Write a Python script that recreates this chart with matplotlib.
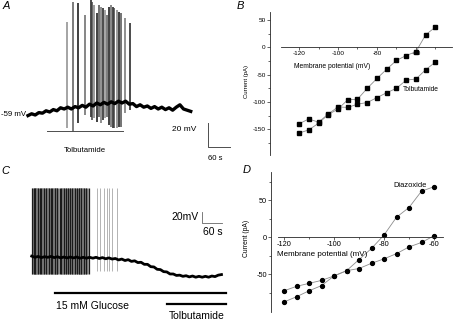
import numpy as np
import matplotlib
matplotlib.use('Agg')
import matplotlib.pyplot as plt

plt.rcParams['font.family'] = ['Liberation Sans', 'DejaVu Sans']
plt.rcParams['axes.unicode_minus'] = False

# ---- panel A : membrane potential trace (s, mV) ----
a_base_t = list(range(0, 451, 10))
a_base_v = [-59.5, -58, -59, -57, -57.5, -55.5, -56.5, -54.5, -55.5, -53,
            -54, -52.5, -54, -52, -53, -51, -52.5, -50, -51.5, -49,
            -50.5, -48.5, -50, -48, -49.5, -47.5, -49, -47.5, -50, -49.5,
            -52, -50.5, -52.5, -51.5, -53.5, -52, -54, -52.5, -54.5, -53,
            -55, -52.5, -50.5, -54, -55, -56]
a_spike_t = [109, 125, 139, 158, 173, 178, 183, 190, 197, 201, 207,
             213, 218, 225, 230, 234, 239, 245, 252, 257, 268, 282]
a_spike_top = [18.7, 35.4, 34.0, 24.3, 36.8, 35.4, 32.6, 25.7, 32.6, 31.2, 29.9,
               28.5, 24.3, 31.2, 32.6, 31.2, 29.9, 28.5, 27.1, 25.7, 21.6, 17.4]
a_spike_bot = [-69.8, -72.9, -65.9, -59, -60.4, -63.2, -61.7, -64.6, -60.4, -65.9, -63.2,
               -61.7, -60.4, -67.3, -68.7, -70.1, -70.1, -70.1, -68.7, -68.7, -57.6, -54.8]
a_drug = (52, 263)

# ---- panel B : I-V (mV, pA) ----
b_v = [-120, -115, -110, -105, -100, -95, -90, -85, -80, -75, -70, -65, -60, -55, -50]
b_control = [-157, -151, -139, -123, -113, -96, -95, -75, -57, -40, -24, -15, -8, 23, 37]
b_tolb = [-140, -131, -137, -122, -109, -110, -104, -101, -92, -83, -75, -60, -58, -41, -27]

# ---- panel C : glucose trace (s, mV) ----
c_base_t = list(range(0, 591, 10))
c_base_v = [-54, -56, -54.5, -56.5, -55, -56, -54.5, -56.5, -55, -57,
            -55.5, -57, -55.5, -57, -55.5, -57.5, -56, -57.5, -56, -57.5,
            -56, -58, -56.5, -58.5, -57, -59, -58, -60.5, -59, -61.5,
            -60, -63, -62, -65, -64.5, -68, -68, -72, -72.5, -76.5,
            -77, -80.5, -81, -84.5, -84.5, -87, -86.5, -88.5, -87.5, -89.5,
            -88, -90, -88.5, -90, -88.5, -90, -88, -89, -86.5, -85.5]
c_spike_dark = [1, 7, 11, 20, 26, 30, 38, 45, 53, 59, 63, 72, 80, 87, 92, 100,
                107, 113, 119, 125, 134, 140, 146, 154, 163, 170, 177]
c_spike_gray = [3, 9, 14, 17, 23, 33, 35, 41, 48, 50, 56, 66, 69, 75, 77, 83, 95,
                97, 103, 110, 116, 122, 128, 131, 137, 143, 149, 151, 157, 160, 166, 173]
c_spike_late = [202, 213, 226, 233, 240, 251, 265]
c_spike_top = 62.5
c_spike_bot = -83.7
c_glucose = (72, 604)
c_tolb = (420, 604)

# ---- panel D : I-V (mV, pA) ----
d_v = [-120, -115, -110, -105, -100, -95, -90, -85, -80, -75, -70, -65, -60]
d_diazo = [-87, -80, -72, -65, -52, -45, -30, -15, 3, 27, 40, 62, 68]
d_control = [-72, -66, -62, -58, -52, -45, -42, -35, -29, -22, -13, -7, 2]

W, H = 453, 320
fig = plt.figure(figsize=(W / 100, H / 100), dpi=100)


def box(x0, y0, x1, y1):
    return [x0 / W, 1 - y1 / H, (x1 - x0) / W, (y1 - y0) / H]


def px(x, y):
    return x / W, 1 - y / H


# panel A
ax = fig.add_axes(box(0, 0, 240, 160))
ax.axis('off')
shades = ['0.55', '0.35', '0.05', '0.4', '0.1', '0.25', '0.5', '0.05', '0.3', '0.45', '0.1']
for i in range(len(a_spike_t)):
    ax.vlines(a_spike_t[i], a_spike_bot[i], a_spike_top[i],
              colors=shades[i % len(shades)], lw=1.1, clip_on=False)
ax.plot(a_base_t, a_base_v, color='black', lw=2.4)
ax.plot(a_drug, [-72.3, -72.3], color='0.3', lw=0.7)
ax.text(sum(a_drug) / 2, -88.5, 'Tolbutamide', fontsize=5.6, ha='center', va='center')
ax.text(-5, -59, '-59 mV', fontsize=5.6, ha='right', va='center')
ax.plot([498.5, 498.5, 558.5], [-65.9, -85.9, -85.9], color='0.3', lw=0.7)
ax.text(432, -71.5, '20 mV', fontsize=6, ha='center', va='center')
ax.text(518, -95.3, '60 s', fontsize=5.6, ha='center', va='center')
ax.set_xlim(-77.4, 586.2)
ax.set_ylim(-96.5, 36.8)

# panel C
ax = fig.add_axes(box(0, 160, 240, 320))
ax.axis('off')
ax.vlines(c_spike_gray, c_spike_bot, c_spike_top, colors='0.5', lw=1.8)
ax.vlines(c_spike_dark, c_spike_bot, c_spike_top, colors='0.1', lw=0.9)
ax.vlines(c_spike_late, c_spike_bot + 4, c_spike_top, colors='0.7', lw=0.7)
ax.plot(c_base_t, c_base_v, color='black', lw=2.0)
ax.plot(c_glucose, [-117.6, -117.6], color='black', lw=1.6)
ax.plot(c_tolb, [-136.4, -136.4], color='black', lw=1.6)
ax.text(c_glucose[0] + 5, -138.5, '15 mM Glucose', fontsize=7.5, ha='left', va='center')
ax.text(sum(c_tolb) / 2, -157, 'Tolbutamide', fontsize=7.5, ha='center', va='center')
ax.plot([530.4, 530.4, 590.4], [22.1, 2.1, 2.1], color='0.4', lw=0.6)
ax.text(478, 13.4, '20mV', fontsize=7.5, ha='center', va='center')
ax.text(562, -12.2, '60 s', fontsize=7.5, ha='center', va='center')
ax.set_xlim(-98.6, 647.6)
ax.set_ylim(-163.2, 110.4)


def iv_axes(rect, xmaj, xmin, ymaj, ymin, lsize):
    ax = fig.add_axes(rect)
    for s in ['top', 'right']:
        ax.spines[s].set_visible(False)
    ax.spines['bottom'].set_position(('data', 0))
    for s in ['bottom', 'left']:
        ax.spines[s].set_linewidth(0.6)
        ax.spines[s].set_color('0.15')
    ax.patch.set_alpha(0)
    ax.set_xticks(xmaj)
    ax.set_xticks(xmin, minor=True)
    ax.set_yticks(ymaj)
    ax.set_yticks(ymin, minor=True)
    ax.tick_params(which='both', labelsize=lsize, width=0.5, color='0.15', pad=1)
    ax.tick_params(which='major', length=2)
    ax.tick_params(which='minor', length=1.2)
    return ax


# panel B
ax = iv_axes(box(270, 12, 452, 155), [-120, -100, -80, -60], [-110, -90, -70, -50],
             [-150, -100, -50, 0, 50], [-175, -125, -75, -25, 25], 4.6)
ax.plot(b_v, b_control, color='0.55', lw=0.6, marker='s', ms=2.2,
        mfc='black', mec='black')
ax.plot(b_v, b_tolb, color='0.55', lw=0.6, marker='s', ms=2.2,
        mfc='black', mec='black')
ax.text(-66.5, -76.8, 'Tolbutamide', fontsize=4.8, ha='left', va='center')
ax.text(-102.8, -34.2, 'Membrane potential (mV)', fontsize=4.9, ha='center', va='center')
ax.set_xlim(-134.9, -41.5)
ax.set_ylim(-197, 64.6)
ax.spines['bottom'].set_bounds(-129.4, -41.5)
fig.text(*px(246.7, 81.7), 'Current (pA)', fontsize=4.3, rotation=90,
         ha='center', va='center')

# panel D
ax = iv_axes(box(271, 172, 443, 312), [-120, -100, -80, -60], [-110, -90, -70],
             [-50, 0, 50], [-75, -25, 25, 75], 5.3)
ax.plot(d_v, d_diazo, color='0.55', lw=0.6, marker='o', ms=2.8,
        mfc='black', mec='black')
ax.plot(d_v, d_control, color='0.55', lw=0.6, marker='o', ms=2.8,
        mfc='black', mec='black')
ax.text(-76.3, 70.3, 'Diazoxide', fontsize=5.4, ha='left', va='center')
ax.text(-104.9, -23.8, 'Membrane potential (mV)', fontsize=5.8, ha='center', va='center')
ax.set_xlim(-125.2, -56.4)
ax.set_ylim(-100.5, 87.8)
ax.spines['bottom'].set_bounds(-122.5, -56.4)
fig.text(*px(246.7, 238.3), 'Current (pA)', fontsize=4.9, rotation=90,
         ha='center', va='center')

# panel letters
for lab, x, y in [('A', 6, 6), ('B', 240, 6), ('C', 5, 171), ('D', 247, 170)]:
    fig.text(*px(x, y), lab, fontsize=8, style='italic', ha='center', va='center')

fig.savefig('out.png', dpi=100)
